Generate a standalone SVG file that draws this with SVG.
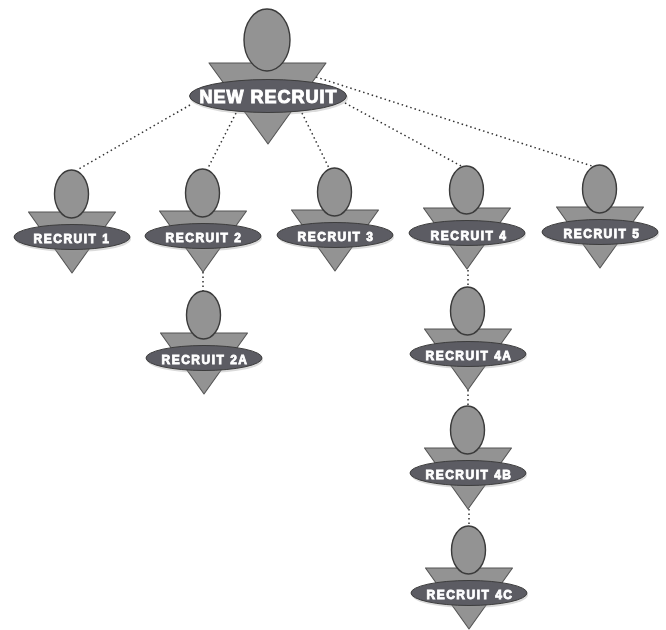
<svg xmlns="http://www.w3.org/2000/svg" width="666" height="630" viewBox="0 0 666 630">
<style>
.tri{fill:#939393;stroke:#555;stroke-width:1.1;stroke-linejoin:round}
.head{fill:#939393;stroke:#3a3a3a;stroke-width:1.4}
.oval{fill:#5c5c64;stroke:#3c3c3c;stroke-width:1}
.sh{fill:#999;opacity:.35}
.lbl{font-family:"Liberation Sans",Arial,sans-serif;font-weight:700;fill:#fff;stroke:#fff;stroke-width:.8;text-anchor:middle;font-size:12px;letter-spacing:1.5px}
.big{font-size:18px;letter-spacing:1px;stroke-width:1}
.con{fill:none;stroke:#333;stroke-width:1.5;stroke-dasharray:1.5 3}
</style>
<defs>
<filter id="soft" x="-5%" y="-5%" width="110%" height="110%"><feGaussianBlur stdDeviation="0.45"/></filter>
<g id="fig">
<polygon class="tri" points="-43.500,-25 43.500,-25 0,36"/>
<ellipse class="head" cx="-.5" cy="-43" rx="17" ry="24"/>
<ellipse class="sh" cx="1" cy="2" rx="58" ry="13"/>
<ellipse class="oval" cx="0" cy="0" rx="58" ry="12.500"/>
</g>
</defs>
<g filter="url(#soft)">
<g id="connectors">
<line class="con" x1="190" y1="105" x2="77" y2="170"/>
<line class="con" x1="236" y1="113" x2="208" y2="168"/>
<line class="con" x1="302" y1="113" x2="329" y2="168"/>
<line class="con" x1="345" y1="103" x2="463" y2="167"/>
<line class="con" x1="316" y1="77" x2="592" y2="166"/>
<line class="con" x1="203" y1="272" x2="203" y2="293"/>
<line class="con" x1="468" y1="270" x2="468" y2="288"/>
<line class="con" x1="468" y1="390" x2="468" y2="408"/>
<line class="con" x1="469" y1="509" x2="469" y2="528"/>
</g>
<g id="new-recruit">
<polygon class="tri" points="209,63 326,63 268,144"/>
<ellipse class="head" cx="267" cy="40" rx="23" ry="31"/>
<ellipse class="sh" cx="269" cy="98" rx="79" ry="17"/>
<ellipse class="oval" cx="268" cy="96" rx="78.500" ry="16.500"/>
<text class="lbl big" x="268.500" y="103">NEW RECRUIT</text>
</g>
<g id="recruit-1"><use href="#fig" x="72" y="237"/><text class="lbl" x="72" y="243">RECRUIT 1</text></g>
<g id="recruit-2"><use href="#fig" x="203" y="236"/><text class="lbl" x="204" y="242">RECRUIT 2</text></g>
<g id="recruit-3"><use href="#fig" x="335" y="235"/><text class="lbl" x="336" y="241">RECRUIT 3</text></g>
<g id="recruit-4"><use href="#fig" x="467" y="233"/><text class="lbl" x="469" y="240">RECRUIT 4</text></g>
<g id="recruit-5"><use href="#fig" x="600" y="232"/><text class="lbl" x="602" y="238">RECRUIT 5</text></g>
<g id="recruit-2a"><use href="#fig" x="204" y="358"/><text class="lbl" x="205" y="364">RECRUIT 2A</text></g>
<g id="recruit-4a"><use href="#fig" x="468" y="354"/><text class="lbl" x="469" y="360">RECRUIT 4A</text></g>
<g id="recruit-4b"><use href="#fig" x="468" y="473"/><text class="lbl" x="469" y="479">RECRUIT 4B</text></g>
<g id="recruit-4c"><use href="#fig" x="469" y="593"/><text class="lbl" x="470" y="599">RECRUIT 4C</text></g>
</g>
</svg>
